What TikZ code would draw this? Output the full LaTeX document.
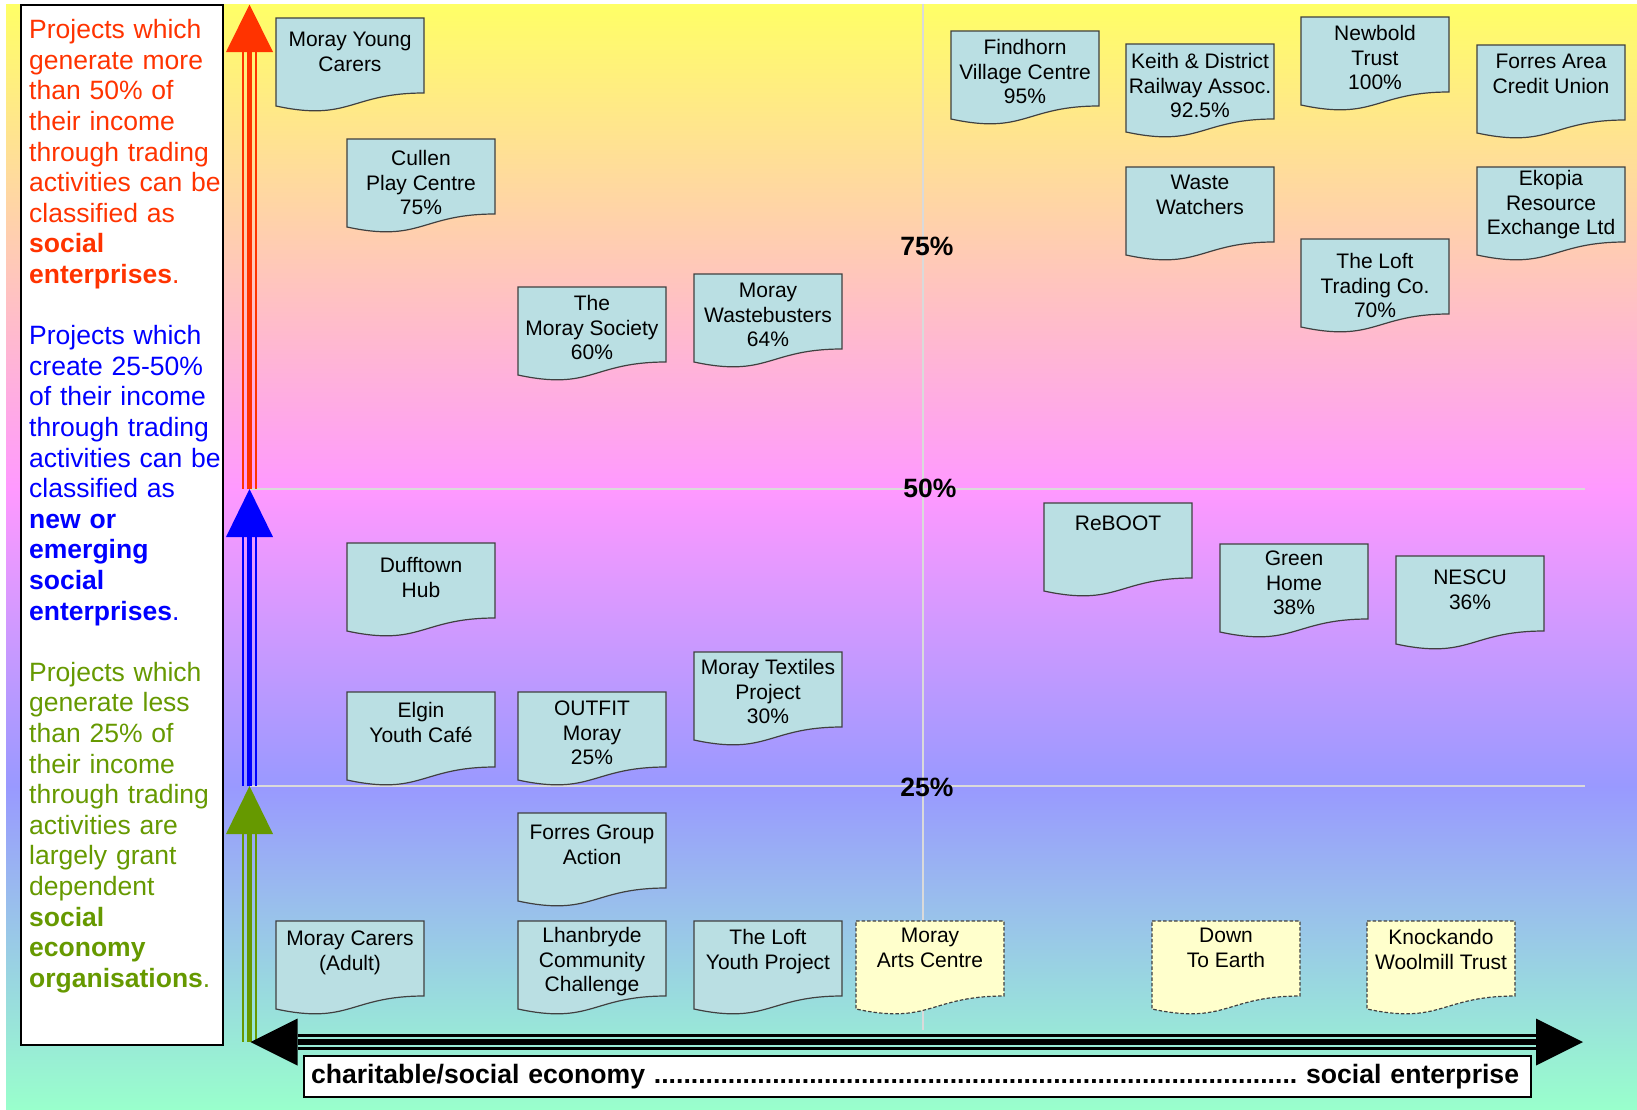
\documentclass[tikz,border=0pt]{standalone}
\usepackage{fontspec}
\setmainfont{Liberation Sans}
\frenchspacing
\definecolor{bgyellow}{HTML}{FFFF66}
\definecolor{bgpink}{HTML}{FF99FF}
\definecolor{bgblue}{HTML}{9999FF}
\definecolor{bgmint}{HTML}{99FFCC}
\definecolor{docfill}{HTML}{BADFE3}
\definecolor{docline}{HTML}{404040}
\definecolor{docyellow}{HTML}{FFFFCC}
\definecolor{redtxt}{HTML}{FF3300}
\definecolor{bluetxt}{HTML}{0000FF}
\definecolor{greentxt}{HTML}{669900}
\definecolor{gridgrey}{HTML}{DADADA}
\tikzset{
  docshape/.style={fill=docfill, draw=docline, line width=1.2pt},
  docdash/.style={fill=docyellow, draw=docline, line width=1.2pt, dash pattern=on 3.5pt off 2pt},
  doctext/.style={anchor=north, inner sep=0pt, align=center, font=\fontsize{21}{24.5}\selectfont},
  pctlabel/.style={inner sep=0pt, font=\fontsize{26.5}{30}\selectfont\bfseries},
  gridline/.style={draw=gridgrey, line width=1.5pt},
}
\newcommand{\docbox}[6]{%
  \path[#4] (#2,#3) -- ({#2+148},#3) -- ({#2+148},{#3+75}) .. controls ({#2+74},{#3+75}) and ({#2+74},{#3+104}) .. (#2,{#3+88}) -- cycle;
  \node[doctext] (#1) at ({#2+74},{#3+#5-9.65}) {\strut #6};
}
\newcommand{\tripleline}[4]{%
  \draw[#1, line width=5.5pt] (#3) -- (#4);
  \draw[#1, line width=2.5pt, transform canvas={#2=6.5pt}] (#3) -- (#4);
  \draw[#1, line width=2.5pt, transform canvas={#2=-6.5pt}] (#3) -- (#4);
}
\begin{document}
\begin{tikzpicture}[x=1pt,y=-1pt]
\useasboundingbox (0,0) rectangle (1637,1109);
\fill[white] (0,0) rectangle (1637,1109);
% background gradient
\shade[top color=bgyellow,bottom color=bgpink] (6,4) rectangle (1637,489.5);
\shade[top color=bgpink,bottom color=bgblue] (6,489) rectangle (1637,786.5);
\shade[top color=bgblue,bottom color=bgmint] (6,786) rectangle (1637,1109);
% grid lines
\coordinate (vtop) at (923,4);
\coordinate (vbot) at (923,1030);
\coordinate (h50a) at (249.5,489);
\coordinate (h50b) at (1585,489);
\coordinate (h25a) at (249.5,786);
\coordinate (h25b) at (1585,786);
\draw[gridline] (vtop) -- (vbot);
\draw[gridline] (h50a) -- (h50b);
\draw[gridline] (h25a) -- (h25b);
% vertical arrows
\coordinate (redtip) at (249.5,4.5);
\coordinate (redbase) at (249.5,52);
\coordinate (bluetip) at (249.5,489);
\coordinate (bluebase) at (249.5,537);
\coordinate (greentip) at (249.5,786);
\coordinate (greenbase) at (249.5,834);
\coordinate (greenend) at (249.5,1042);
\tripleline{redtxt}{xshift}{redbase}{bluetip}
\tripleline{bluetxt}{xshift}{bluebase}{greentip}
\tripleline{greentxt}{xshift}{greenbase}{greenend}
\fill[redtxt] (redtip) -- ([xshift=23.5pt]redbase) -- ([xshift=-23.5pt]redbase) -- cycle;
\fill[bluetxt] (bluetip) -- ([xshift=23.5pt]bluebase) -- ([xshift=-23.5pt]bluebase) -- cycle;
\fill[greentxt] (greentip) -- ([xshift=23.5pt]greenbase) -- ([xshift=-23.5pt]greenbase) -- cycle;
% horizontal arrow
\coordinate (ltip) at (250.5,1042);
\coordinate (lbase) at (297.5,1042);
\coordinate (rbase) at (1536,1042);
\coordinate (rtip) at (1583,1042);
\tripleline{black}{yshift}{lbase}{rbase}
\fill[black] (ltip) -- ([yshift=23.5pt]lbase) -- ([yshift=-23.5pt]lbase) -- cycle;
\fill[black] (rtip) -- ([yshift=23.5pt]rbase) -- ([yshift=-23.5pt]rbase) -- cycle;
% documents
\docbox{myc}{276}{18}{docshape}{21}{Moray Young\\Carers}
\docbox{cullen}{347}{139}{docshape}{19}{Cullen\\Play Centre\\75\%}
\docbox{msoc}{518}{287}{docshape}{16}{The\\Moray Society\\60\%}
\docbox{mwb}{694}{274}{docshape}{16}{Moray\\Wastebusters\\64\%}
\docbox{findhorn}{951}{31}{docshape}{16}{Findhorn\\Village Centre\\95\%}
\docbox{keith}{1126}{44}{docshape}{17}{Keith \& District\\Railway Assoc.\\92.5\%}
\docbox{newbold}{1301}{17}{docshape}{16}{Newbold\\Trust\\100\%}
\docbox{facu}{1477}{45}{docshape}{16}{Forres Area\\Credit Union}
\docbox{waste}{1126}{167}{docshape}{15}{Waste\\Watchers}
\docbox{ekopia}{1477}{167}{docshape}{11}{Ekopia\\Resource\\Exchange Ltd}
\docbox{lofttrading}{1301}{239}{docshape}{22}{The Loft\\Trading Co.\\70\%}
\docbox{reboot}{1044}{503}{docshape}{20}{ReBOOT}
\docbox{greenhome}{1220}{544}{docshape}{14}{Green\\Home\\38\%}
\docbox{nescu}{1396}{556}{docshape}{21}{NESCU\\36\%}
\docbox{dufftown}{347}{543}{docshape}{22}{Dufftown\\Hub}
\docbox{elgin}{347}{692}{docshape}{18}{Elgin\\Youth Café}
\docbox{outfit}{518}{692}{docshape}{16}{OUTFIT\\Moray\\25\%}
\docbox{textiles}{694}{652}{docshape}{15}{Moray Textiles\\Project\\30\%}
\docbox{fga}{518}{813}{docshape}{19}{Forres Group\\Action}
\docbox{mca}{276}{921}{docshape}{17}{Moray Carers\\(Adult)}
\docbox{lhanbryde}{518}{921}{docshape}{14}{Lhanbryde\\Community\\Challenge}
\docbox{loftyouth}{694}{921}{docshape}{16}{The Loft\\Youth Project}
\docbox{arts}{856}{921}{docdash}{14}{Moray\\Arts Centre}
\docbox{dte}{1152}{921}{docdash}{14}{Down\\To Earth}
\docbox{knock}{1367}{921}{docdash}{16}{Knockando\\Woolmill Trust}
% percentage labels
\node[pctlabel] (p75) at (927,246) {75\%};
\node[pctlabel] (p50) at (930,488) {50\%};
\node[pctlabel] (p25) at (927,787) {25\%};
% legend box
\node[draw=black, fill=white, line width=2pt, anchor=north west, minimum width=202pt, minimum height=1040pt, inner sep=0pt] (legendbox) at (20,4) {};
\node[anchor=north west, inner sep=0pt, text width=200pt, align=left, font=\fontsize{26.5}{30.6}\selectfont] (legendtext) at (29,17.07) {\leavevmode\strut{\color{redtxt}Projects which\\generate more\\than 50\% of\\their income\\through trading\\activities can be\\classified as\\\textbf{social}\\\textbf{enterprises}.}\\[30.6pt]
{\color{bluetxt}Projects which\\create 25-50\%\\of their income\\through trading\\activities can be\\classified as\\\textbf{new or}\\\textbf{emerging}\\\textbf{social}\\\textbf{enterprises}.}\\[30.6pt]
{\color{greentxt}Projects which\\generate less\\than 25\% of\\their income\\through trading\\activities are\\largely grant\\dependent\\\textbf{social}\\\textbf{economy}\\\textbf{organisations}.}};
% axis label
\node[draw=black, fill=white, line width=2pt, anchor=west, text width=1213pt, inner xsep=7pt, inner ysep=0pt, minimum height=41pt, align=left, font=\fontsize{26.6}{30}\selectfont\bfseries] (axislabel) at (303,1076.5) {\hbox{charitable/social economy ....................................................................................... social enterprise}};
\end{tikzpicture}
\end{document}
